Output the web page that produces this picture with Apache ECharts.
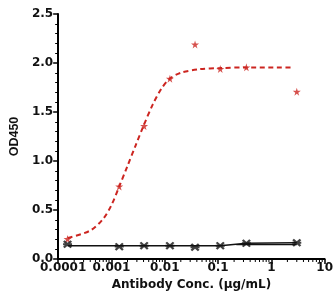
<!DOCTYPE html>
<html>
<head>
<meta charset="utf-8">
<script src="https://cdn.jsdelivr.net/npm/echarts@6/dist/echarts.min.js"></script>
<style>
    html, body { margin: 0; padding: 0; background: #fff; }
    #chart { width: 336px; height: 305px; }
</style>
</head>
<body>
<div id="chart"></div>
<script>
// measured points (antibody conc, OD450)
const concentrations = [0.00015, 0.0014, 0.0041, 0.0125, 0.037, 0.11, 0.34, 3.0]
const sampleOD = [0.204, 0.74, 1.357, 1.84, 2.19, 1.94, 1.956, 1.707]
const controlOD = [0.15, 0.126, 0.136, 0.136, 0.12, 0.136, 0.16, 0.166]

// fitted curves
const sampleFitX = [0.000152, 0.0004, 0.0007, 0.001, 0.0014, 0.002, 0.0028, 0.004, 0.006, 0.0087, 0.0124, 0.02, 0.045, 0.11, 0.33, 2.6]
const sampleFitY = [0.215, 0.29, 0.41, 0.55, 0.74, 0.95, 1.15, 1.36, 1.58, 1.74, 1.84, 1.9, 1.937, 1.948, 1.955, 1.955]
const controlFitX = [0.00015, 0.11, 0.34, 3.0]
const controlFitY = [0.135, 0.136, 0.16, 0.166]
const controlFit2X = [0.22, 3.0]
const controlFit2Y = [0.146, 0.146]

const xTickLabels = ['0.0001', '0.001', '0.01', '0.1', '1', '10']
const yTickLabels = ['0.0', '0.5', '1.0', '1.5', '2.0', '2.5']

const starPath = 'path://M50,0 L61,35 L98,35 L68,57 L79,91 L50,70 L21,91 L32,57 L2,35 L39,35 Z'
const crossPath = 'path://M0,3.8 L10,3.8 L10,6.2 L0,6.2 Z M0,1.8 L1.8,0 L10,8.2 L8.2,10 Z M8.2,0 L10,1.8 L1.8,10 L0,8.2 Z'

const zip = (xs, ys) => xs.map((x, i) => [x, ys[i]])

// log minor ticks 2..9 in each decade
const minorTicks = []
for (let d = -4; d < 1; d++) {
    for (let k = 2; k < 10; k++) minorTicks.push([k * Math.pow(10, d), 0])
}

const red = '#cc2520'
const tickFont = { fontFamily: 'DejaVu Sans', fontWeight: 'bold', fontSize: 12, color: '#111' }

const chart = echarts.init(document.getElementById('chart'))
chart.setOption({
    animation: false,
    grid: { left: 52, right: 10, top: 14, bottom: 46 },
    xAxis: {
        type: 'log',
        logBase: 10,
        min: 0.0001,
        max: 10,
        name: 'Antibody Conc. (μg/mL)',
        nameLocation: 'middle',
        nameGap: 18,
        nameTextStyle: tickFont,
        axisLine: { lineStyle: { color: '#000', width: 2 } },
        axisTick: { length: 5, lineStyle: { color: '#000', width: 1.5 } },
        axisLabel: Object.assign({
            margin: 3,
            formatter: v => {
                const i = Math.round(Math.log10(v)) + 4
                return i === 0 ? '{first|' + xTickLabels[0] + '}' : xTickLabels[i]
            },
            rich: { first: Object.assign({ padding: [0, 0, 0, 10] }, tickFont) },
        }, tickFont),
        splitLine: { show: false },
    },
    yAxis: {
        type: 'value',
        min: 0,
        max: 2.5,
        interval: 0.5,
        name: 'OD450',
        nameLocation: 'middle',
        nameGap: 32,
        nameTextStyle: { fontFamily: 'Liberation Sans', fontWeight: 'bold', fontSize: 12.5, color: '#111' },
        axisLine: { show: true, lineStyle: { color: '#000', width: 2 } },
        axisTick: { show: true, length: 5, lineStyle: { color: '#000', width: 1.5 } },
        minorTick: { show: true, splitNumber: 5, length: 3, lineStyle: { color: '#000', width: 1 } },
        axisLabel: Object.assign({
            margin: 5,
            formatter: v => yTickLabels[Math.round(v * 2)],
        }, tickFont),
        splitLine: { show: false },
    },
    series: [
        {
            type: 'line',
            data: zip(sampleFitX, sampleFitY),
            smooth: 0.3,
            showSymbol: false,
            lineStyle: { color: red, width: 2, type: [5, 3.5] },
            z: 2,
        },
        {
            type: 'scatter',
            data: zip(concentrations, sampleOD),
            symbol: starPath,
            symbolSize: 8,
            itemStyle: { color: red },
            z: 3,
        },
        {
            type: 'line',
            data: zip(controlFitX, controlFitY),
            showSymbol: false,
            lineStyle: { color: '#111', width: 1.5 },
            z: 2,
        },
        {
            type: 'line',
            data: zip(controlFit2X, controlFit2Y),
            showSymbol: false,
            lineStyle: { color: '#111', width: 1.2 },
            z: 2,
        },
        {
            type: 'scatter',
            data: zip(concentrations, controlOD),
            symbol: crossPath,
            symbolSize: [9, 8],
            itemStyle: { color: '#111' },
            z: 4,
        },
        {
            type: 'custom',
            data: minorTicks,
            clip: false,
            silent: true,
            renderItem(params, api) {
                const p = api.coord([api.value(0), 0])
                return {
                    type: 'line',
                    shape: { x1: p[0], y1: p[1], x2: p[0], y2: p[1] + 3 },
                    style: { stroke: '#000', lineWidth: 1 },
                }
            },
        },
    ],
})
</script>
</body>
</html>
